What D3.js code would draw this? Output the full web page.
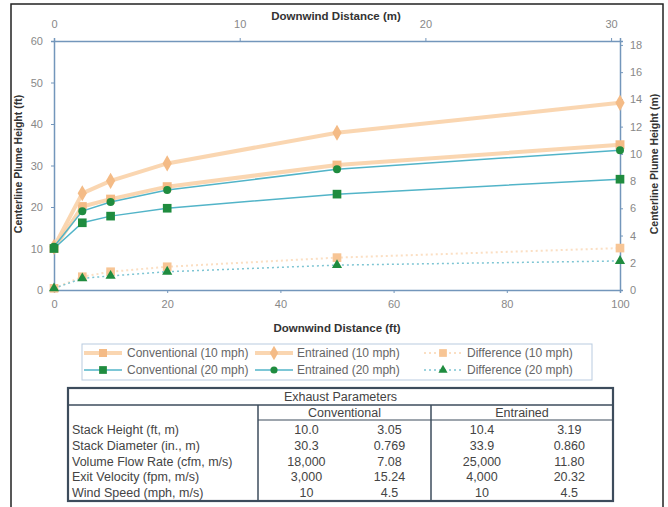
<!DOCTYPE html>
<html>
<head>
<meta charset="utf-8">
<script src="https://cdn.jsdelivr.net/npm/d3@7"></script>
<style>
  html, body { margin: 0; padding: 0; background: #ffffff; }
  svg { display: block; font-family: "Liberation Sans", Arial, sans-serif; }
</style>
</head>
<body>
<svg id="chart" width="668" height="507"></svg>
<script>
// Downwind distance (ft) at which plume heights were computed
const distanceFt = [0, 5, 10, 20, 50, 100];

// Centerline plume height (ft)
const conventional10 = [10.0, 20.1, 21.9, 24.9, 30.1, 35.0];
const entrained10    = [10.4, 23.3, 26.3, 30.5, 37.9, 45.1];
const difference10   = [0.4, 3.2, 4.4, 5.6, 7.8, 10.1];
const conventional20 = [10.0, 16.2, 17.8, 19.7, 23.1, 26.7];
const entrained20    = [10.4, 19.0, 21.2, 24.1, 29.1, 33.7];
const difference20   = [0.4, 2.8, 3.4, 4.4, 6.0, 7.0];

// Axis ticks
const ftTicksX = [0, 20, 40, 60, 80, 100];
const ftTicksY = [0, 10, 20, 30, 40, 50, 60];
const mTicksX = [0, 10, 20, 30];
const mTicksY = [0, 2, 4, 6, 8, 10, 12, 14, 16, 18];

// Exhaust parameter table
const paramLabels = ["Stack Height (ft, m)", "Stack Diameter (in., m)", "Volume Flow Rate (cfm, m/s)", "Exit Velocity (fpm, m/s)", "Wind Speed (mph, m/s)"];
const conventionalEnglish = ["10.0", "30.3", "18,000", "3,000", "10"];
const conventionalMetric  = ["3.05", "0.769", "7.08", "15.24", "4.5"];
const entrainedEnglish    = ["10.4", "33.9", "25,000", "4,000", "10"];
const entrainedMetric     = ["3.19", "0.860", "11.80", "20.32", "4.5"];

const FT_PER_M = 3.28084;
const svg = d3.select("#chart");

// outer frame
svg.append("rect").attr("x", 11).attr("y", 4).attr("width", 652).attr("height", 510)
  .attr("fill", "none").attr("stroke", "#222").attr("stroke-width", 1.5);

const x = d3.scaleLinear().domain([0, 100]).range([54, 620]);
const y = d3.scaleLinear().domain([0, 60]).range([290, 41]);
const xm = d3.scaleLinear().domain([0, 100 / FT_PER_M]).range([54, 620]);
const ym = d3.scaleLinear().domain([0, 60 / FT_PER_M]).range([290, 41]);

const axisColor = "#7396bb";
const tickText = "#888";

function styleAxis(g) {
  g.select(".domain").attr("stroke", axisColor).attr("stroke-width", 1.5);
  g.selectAll(".tick line").attr("stroke", axisColor);
  g.selectAll(".tick text").attr("fill", tickText).style("font-size", "11px");
}

svg.append("g").attr("transform", "translate(0,290)")
  .call(d3.axisBottom(x).tickValues(ftTicksX).tickSize(3).tickPadding(7))
  .call(styleAxis);
svg.append("g").attr("transform", "translate(54,0)")
  .call(d3.axisLeft(y).tickValues(ftTicksY).tickSize(3).tickPadding(8))
  .call(styleAxis);
svg.append("g").attr("transform", "translate(0,41)")
  .call(d3.axisTop(xm).tickValues(mTicksX).tickSize(3).tickPadding(10))
  .call(styleAxis);
svg.append("g").attr("transform", "translate(620,0)")
  .call(d3.axisRight(ym).tickValues(mTicksY).tickSize(3).tickPadding(7))
  .call(styleAxis);

// axis titles
const titleStyle = (t, size) => t.attr("fill", "#333").attr("font-weight", "bold").style("font-size", size).attr("text-anchor", "middle");
svg.append("text").attr("x", 337).attr("y", 332).text("Downwind Distance (ft)").call(titleStyle, "11.5px");
svg.append("text").attr("x", 336).attr("y", 20).text("Downwind Distance (m)").call(titleStyle, "11.5px");
svg.append("text").attr("transform", "translate(22,164) rotate(-90)").text("Centerline Plume Height (ft)").call(titleStyle, "10.5px");
svg.append("text").attr("transform", "translate(658,164) rotate(-90)").text("Centerline Plume Height (m)").call(titleStyle, "10.5px");

// series definitions
const orangeLine = "#f9cfa3";
const orangeMark = "#f4bb86";
const tealLine = "#52b4c8";
const greenMark = "#1f8c3f";

const series = [
  { name: "Conventional (10 mph)", values: conventional10, line: orangeLine, width: 4, dash: null, symbol: d3.symbolSquare, size: 80, fill: orangeMark, lineOpacity: 0.85 },
  { name: "Entrained (10 mph)", values: entrained10, line: orangeLine, width: 4, dash: null, symbol: d3.symbolDiamond, size: 75, fill: orangeMark, lineOpacity: 0.85 },
  { name: "Difference (10 mph)", values: difference10, line: "#fbdcbd", width: 2, dash: "2,3", symbol: d3.symbolSquare, size: 75, fill: "#f7c595", lineOpacity: 0.9 },
  { name: "Conventional (20 mph)", values: conventional20, line: tealLine, width: 1.5, dash: null, symbol: d3.symbolSquare, size: 75, fill: greenMark, lineOpacity: 1 },
  { name: "Entrained (20 mph)", values: entrained20, line: tealLine, width: 1.5, dash: null, symbol: d3.symbolCircle, size: 50, fill: greenMark, lineOpacity: 1 },
  { name: "Difference (20 mph)", values: difference20, line: "#7ec5d3", width: 1.5, dash: "2,3", symbol: d3.symbolTriangle, size: 45, fill: greenMark, lineOpacity: 1 }
];

const lineGen = d3.line().x((d, i) => x(distanceFt[i])).y(d => y(d));
const plot = svg.append("g");

series.forEach(s => {
  const g = plot.append("g");
  g.append("path").attr("d", lineGen(s.values))
    .attr("fill", "none").attr("stroke", s.line).attr("stroke-width", s.width)
    .attr("stroke-dasharray", s.dash).attr("stroke-opacity", s.lineOpacity);
  g.selectAll("path.mark").data(s.values).join("path").attr("class", "mark")
    .attr("transform", (d, i) => `translate(${x(distanceFt[i])},${y(d)})`)
    .attr("d", d3.symbol().type(s.symbol).size(s.size))
    .attr("fill", s.fill);
});

// legend
const legend = svg.append("g");
legend.append("rect").attr("x", 82).attr("y", 344).attr("width", 510).attr("height", 36)
  .attr("fill", "#fff").attr("stroke", "#b9cbe0").attr("stroke-width", 1);
const legendCols = [
  { sx: 84, tx: 127 },
  { sx: 255, tx: 297 },
  { sx: 424, tx: 467 }
];
const legendRows = [353, 370];
const legendOrder = [[0, 1, 2], [3, 4, 5]];
legendOrder.forEach((row, r) => {
  row.forEach((si, c) => {
    const s = series[si];
    const col = legendCols[c];
    const yy = legendRows[r];
    legend.append("line").attr("x1", col.sx).attr("x2", col.sx + 38).attr("y1", yy).attr("y2", yy)
      .attr("stroke", s.line).attr("stroke-width", s.width).attr("stroke-dasharray", s.dash)
      .attr("stroke-opacity", s.lineOpacity);
    legend.append("path").attr("transform", `translate(${col.sx + 19},${yy})`)
      .attr("d", d3.symbol().type(s.symbol).size(s.size * 0.8)).attr("fill", s.fill);
    legend.append("text").attr("x", col.tx).attr("y", yy + 4).text(s.name)
      .attr("fill", "#666").style("font-size", "12px");
  });
});

// exhaust parameter table
const table = svg.append("g");
const tL = 68, tR = 613, tT = 388, tB = 501;
const c1 = 258, c2 = 431;
const lineCol = "#3d4c5c";
const tableText = "#444";
table.append("rect").attr("x", tL).attr("y", tT).attr("width", tR - tL).attr("height", tB - tT)
  .attr("fill", "#fff").attr("stroke", lineCol).attr("stroke-width", 2.2);
table.append("line").attr("x1", tL).attr("x2", tR).attr("y1", 405).attr("y2", 405)
  .attr("stroke", lineCol).attr("stroke-width", 1.5);
table.append("line").attr("x1", c1).attr("x2", tR).attr("y1", 420).attr("y2", 420)
  .attr("stroke", lineCol).attr("stroke-width", 1.2);
[c1, c2].forEach(cx => table.append("line").attr("x1", cx).attr("x2", cx).attr("y1", 405).attr("y2", tB)
  .attr("stroke", lineCol).attr("stroke-width", 1.5));

const cell = (xx, yy, txt, anchor) => table.append("text").attr("x", xx).attr("y", yy)
  .attr("text-anchor", anchor || "middle").attr("fill", tableText).style("font-size", "12.5px").text(txt);

cell((tL + tR) / 2, 401, "Exhaust Parameters");
cell((c1 + c2) / 2, 417, "Conventional");
cell((c2 + tR) / 2, 417, "Entrained");

const rowY = d3.scalePoint().domain(d3.range(paramLabels.length)).range([434, 497]);
paramLabels.forEach((lab, i) => {
  const yy = rowY(i);
  cell(72, yy, lab, "start");
  cell(c1 + 0.28 * (c2 - c1), yy, conventionalEnglish[i]);
  cell(c1 + 0.76 * (c2 - c1), yy, conventionalMetric[i]);
  cell(c2 + 0.28 * (tR - c2), yy, entrainedEnglish[i]);
  cell(c2 + 0.76 * (tR - c2), yy, entrainedMetric[i]);
});
</script>
</body>
</html>
